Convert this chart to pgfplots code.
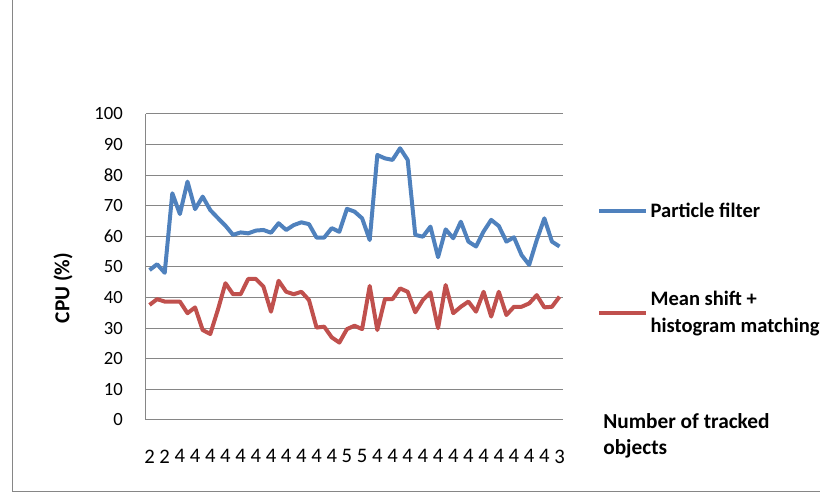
\documentclass[border=0pt]{standalone}
\usepackage{pgfplots}
\pgfplotsset{compat=1.18}
\usepackage{fontspec}
\setmainfont{Carlito}
\definecolor{pfblue}{HTML}{4F81BD}
\definecolor{msred}{HTML}{C0504D}
\definecolor{gridgray}{HTML}{868686}

\begin{document}
\begin{tikzpicture}
% page size: 820x495 px at 0.75pt per px
\path[use as bounding box] (0,0) rectangle (615pt,371.25pt);
\draw[gridgray, line width=0.75pt] (9pt,371.25pt) -- (9pt,2.25pt) -- (615pt,2.25pt);
\begin{axis}[
    at={(109.3pt,56.25pt)}, anchor=south west,
    scale only axis,
    width=313.2pt, height=229.5pt,
    xmin=0.5, xmax=55.5,
    ymin=0, ymax=100,
    ytick={0,10,...,100},
    xtick={1,3,...,55},
    xticklabels={2,2,4,4,4,4,4,4,4,4,4,4,4,5,5,4,4,4,4,4,4,4,4,4,4,4,4,3},
    axis x line*=bottom, axis y line*=left,
    axis line style={gridgray, line width=0.75pt},
    major tick length=0pt,
    ymajorgrids,
    grid style={gridgray, line width=0.75pt},
    /pgf/number format/assume math mode=true,
    yticklabel style={font=\fontsize{14}{16}\selectfont, inner sep=0pt, anchor=east, xshift=-17pt},
    xticklabel style={font=\fontsize{15.5}{18}\selectfont, inner sep=0pt, anchor=north, yshift=-22pt},
    legend cell align=left,
    legend image code/.code={\draw[#1] (0pt,0pt) -- (35pt,0pt);},
    legend style={at={(axis description cs:1.0807,0.7200)}, anchor=north west,
        draw=none, fill=none, inner sep=0pt, row sep=50pt,
        font=\bfseries\fontsize{15.4}{20}\selectfont,
        cells={align=left}},
]
\addplot[pfblue, line width=3pt, line join=round] coordinates {
(1,49) (2,50.9) (3,48.1) (4,74.1) (5,67.3) (6,77.9) (7,68.9) (8,73) (9,68.6) (10,66)
(11,63.5) (12,60.5) (13,61.3) (14,61) (15,61.9) (16,62.1) (17,61.2) (18,64.3) (19,62.1) (20,63.7)
(21,64.6) (22,64) (23,59.6) (24,59.6) (25,62.7) (26,61.5) (27,69) (28,68.1) (29,65.9) (30,58.8)
(31,86.6) (32,85.5) (33,85) (34,88.8) (35,85) (36,60.5) (37,59.9) (38,63.2) (39,53.2) (40,62.3)
(41,59.4) (42,64.8) (43,58.3) (44,56.7) (45,61.6) (46,65.4) (47,63.4) (48,58.3) (49,59.7) (50,53.9)
(51,50.7) (52,58.8) (53,65.9) (54,58.3) (55,56.7)
};
\addlegendentry{Particle filter}
\addplot[msred, line width=3pt, line join=round] coordinates {
(1,37.6) (2,39.5) (3,38.7) (4,38.7) (5,38.7) (6,34.9) (7,36.8) (8,29.4) (9,28.1) (10,36)
(11,44.7) (12,41.1) (13,41.1) (14,46.1) (15,46.1) (16,43.6) (17,35.4) (18,45.5) (19,41.9) (20,41.1)
(21,41.9) (22,39.2) (23,30.2) (24,30.5) (25,27) (26,25.3) (27,29.7) (28,30.8) (29,29.7) (30,43.8)
(31,29.4) (32,39.5) (33,39.5) (34,43) (35,41.9) (36,35.2) (37,39.2) (38,41.7) (39,30) (40,44.1)
(41,34.9) (42,37) (43,38.7) (44,35.4) (45,41.9) (46,33.8) (47,41.9) (48,34.3) (49,37) (50,37)
(51,38.1) (52,40.8) (53,36.8) (54,37) (55,40.3)
};
\addlegendentry{Mean shift +\\histogram matching}
\end{axis}
\node[rotate=90, font=\bfseries\fontsize{16}{19}\selectfont] at (47.25pt,155.25pt) {CPU (\%)};
\node[anchor=north west, align=left, inner sep=0pt, font=\bfseries\fontsize{16}{20}\selectfont]
    at (452.25pt,61.5pt) {Number of tracked\\objects};
\end{tikzpicture}
\end{document}
